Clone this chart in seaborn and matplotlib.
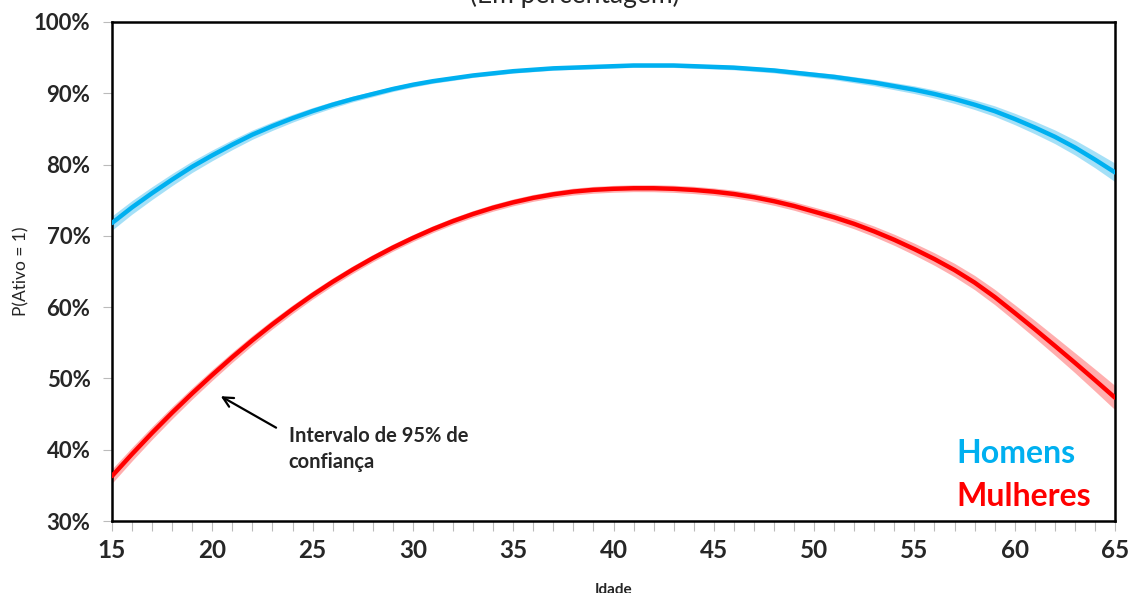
import numpy as np
import pandas as pd
import matplotlib
matplotlib.use("Agg")
import matplotlib.pyplot as plt
import seaborn as sns

ages = list(range(15, 66))
homens = [71.8, 74.0, 76.0, 77.9, 79.7, 81.3, 82.8, 84.2, 85.4, 86.5,
          87.5, 88.4, 89.2, 89.9, 90.6, 91.2, 91.7, 92.1, 92.5, 92.8,
          93.1, 93.3, 93.5, 93.6, 93.7, 93.8, 93.9, 93.9, 93.9, 93.8,
          93.7, 93.6, 93.4, 93.2, 92.9, 92.6, 92.3, 91.9, 91.5, 91.0,
          90.5, 89.9, 89.2, 88.4, 87.5, 86.4, 85.2, 83.9, 82.4, 80.7, 78.9]
mulheres = [36.3, 39.39, 42.36, 45.2, 47.91, 50.5, 52.99, 55.36, 57.6, 59.71,
            61.7, 63.55, 65.27, 66.87, 68.35, 69.7, 70.95, 72.07, 73.07, 73.95,
            74.7, 75.33, 75.83, 76.21, 76.46, 76.6, 76.68, 76.68, 76.6, 76.44,
            76.2, 75.87, 75.42, 74.86, 74.19, 73.4, 72.6, 71.68, 70.62, 69.44,
            68.14, 66.74, 65.2, 63.45, 61.43, 59.2, 56.92, 54.58, 52.2, 49.77, 47.3]
ci_homens = [1.0, 0.95, 0.9, 0.85, 0.8, 0.75, 0.7, 0.65, 0.6, 0.55,
             0.5, 0.45, 0.4, 0.38, 0.35, 0.33, 0.3, 0.3, 0.28, 0.28,
             0.27, 0.27, 0.27, 0.27, 0.27, 0.27, 0.27, 0.28, 0.28, 0.29,
             0.3, 0.31, 0.32, 0.34, 0.36, 0.38, 0.4, 0.43, 0.46, 0.5,
             0.54, 0.58, 0.63, 0.68, 0.74, 0.8, 0.88, 0.96, 1.05, 1.15, 1.3]
ci_mulheres = [1.0, 0.95, 0.9, 0.85, 0.8, 0.76, 0.72, 0.68, 0.64, 0.6,
               0.57, 0.55, 0.53, 0.51, 0.5, 0.49, 0.48, 0.48, 0.48, 0.48,
               0.48, 0.48, 0.48, 0.48, 0.48, 0.48, 0.48, 0.49, 0.5, 0.51,
               0.52, 0.54, 0.56, 0.58, 0.6, 0.63, 0.66, 0.7, 0.74, 0.78,
               0.83, 0.88, 0.94, 1.0, 1.07, 1.14, 1.22, 1.3, 1.4, 1.55, 1.7]
yticks = [30, 40, 50, 60, 70, 80, 90, 100]
xticks = [15, 20, 25, 30, 35, 40, 45, 50, 55, 60, 65]

df = pd.DataFrame({
    "Idade": ages * 2,
    "P": homens + mulheres,
    "Sexo": ["Homens"] * len(ages) + ["Mulheres"] * len(ages),
})

sns.set_style("white")
plt.rcParams["font.family"] = ["Lato", "DejaVu Sans"]

fig = plt.figure(figsize=(11.32, 5.93), dpi=100)
ax = fig.add_axes([112 / 1132, 72 / 593, (1115 - 112) / 1132, (521 - 22) / 593])

blue = "#00B0F0"
red = "#FF0000"
h = np.array(homens); m = np.array(mulheres)
ch = np.array(ci_homens); cm = np.array(ci_mulheres)
ax.fill_between(ages, h - ch, h + ch, color="#8FD9F6", alpha=0.8, lw=0, zorder=1)
ax.fill_between(ages, m - cm, m + cm, color="#FF9A9A", alpha=0.8, lw=0, zorder=1)
sns.lineplot(data=df, x="Idade", y="P", hue="Sexo", palette={"Homens": blue, "Mulheres": red},
             linewidth=3.2, legend=False, ax=ax, zorder=3)

ax.set_xlim(15, 65)
ax.set_ylim(30, 100)
ax.set_xticks(xticks)
ax.set_xticks(ages, minor=True)
ax.set_yticks(yticks)
ax.set_yticklabels([f"{v}%" for v in yticks], fontsize=16, fontweight="bold")
ax.set_xticklabels([str(v) for v in xticks], fontsize=17.5, fontweight="bold")
ax.tick_params(axis="x", which="both", direction="out", length=7, width=0.8,
               color="#BBBBBB", bottom=True, pad=6)
ax.tick_params(axis="y", which="major", direction="out", length=6.5, width=0.8,
               color="#BBBBBB", left=True, pad=9)
for s in ax.spines.values():
    s.set_color("black")
    s.set_linewidth(1.8)

ax.set_xlabel("Idade", fontsize=11, fontweight="bold")
ax.set_ylabel("P(Ativo = 1)", fontsize=12.5)
ax.xaxis.set_label_coords(0.5, -0.125)
ax.yaxis.set_label_coords(-0.082, 0.5)

ax.annotate("", xy=(20.3, 47.7), xytext=(23.3, 42.9),
            arrowprops=dict(arrowstyle="->", color="black", lw=1.6, mutation_scale=18))
ax.text(23.8, 43.3, "Intervalo de 95% de\nconfiança", fontsize=14.5, fontweight="bold",
        va="top", ha="left", linespacing=1.35)
ax.text(57.1, 39.5, "Homens", color=blue, fontsize=23, fontweight="bold", va="center", ha="left")
ax.text(57.1, 33.4, "Mulheres", color=red, fontsize=23, fontweight="bold", va="center", ha="left")

fig.text(575 / 1132, 1 - 3 / 593, "(Em percentagem)", fontsize=19, ha="center", va="baseline")

fig.savefig("out.png", dpi=100)
